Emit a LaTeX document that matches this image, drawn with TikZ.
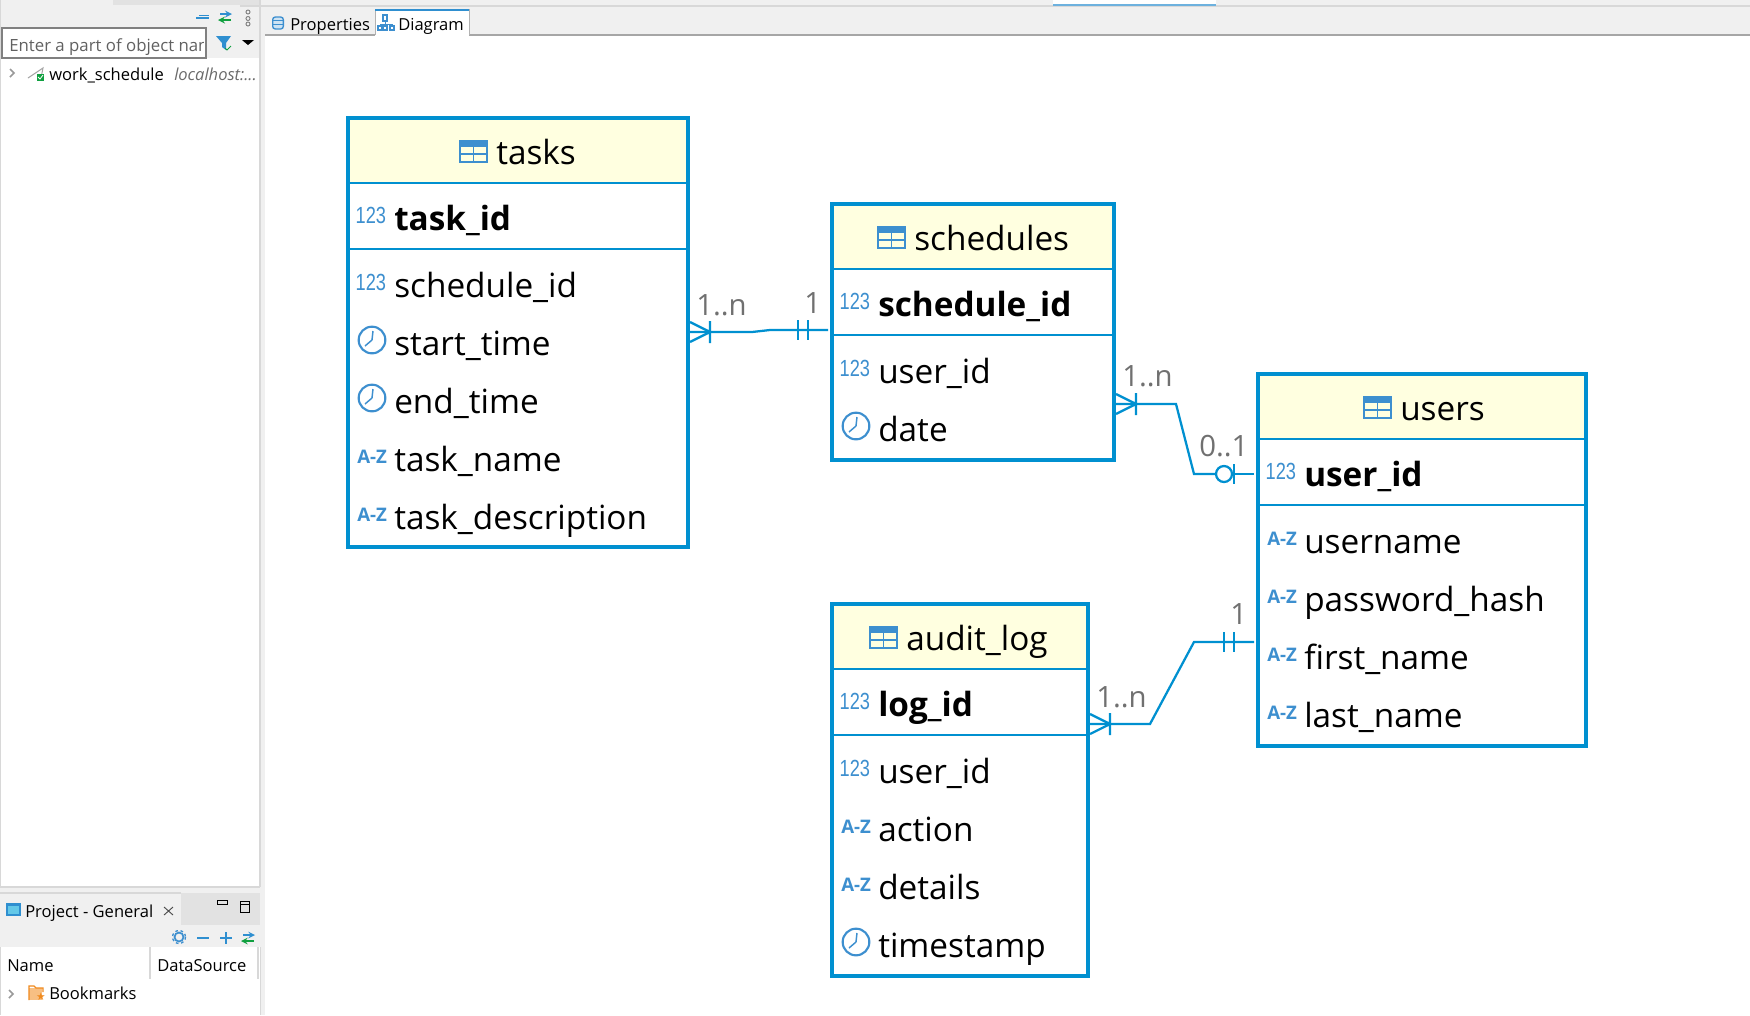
\documentclass[tikz,border=0pt]{standalone}
\usepackage{fontspec}
\setmainfont{Open Sans}
\newfontfamily\numfont{Liberation Sans}
\definecolor{erblue}{HTML}{0090D0}
\definecolor{icblue}{HTML}{3D8FCF}
\definecolor{hdryellow}{HTML}{FFFFE0}
\definecolor{lblgrey}{HTML}{707070}
\definecolor{panelgrey}{HTML}{F0F0F0}
\definecolor{tabgrey}{HTML}{E2E2E2}
\definecolor{edgegrey}{HTML}{D8D8D8}
\definecolor{toolblue}{HTML}{2F8FD0}
\definecolor{toolgreen}{HTML}{10A040}
\definecolor{folderorange}{HTML}{F08A1E}
\tikzset{
  tablebox/.style={draw=erblue,line width=3pt,inner sep=0pt},
  colname/.style={anchor=base west,inner sep=0pt,font=\fontsize{25}{30}\selectfont,text=black},
  pkname/.style={colname,font=\fontsize{25}{30}\selectfont\bfseries},
  titletext/.style={colname,font=\fontsize{25}{30}\selectfont},
  sepline/.style={draw=erblue,line width=1.6pt},
  erline/.style={draw=erblue,line width=1.7pt},
  cardlabel/.style={anchor=base west,inner sep=0pt,font=\fontsize{22}{26}\selectfont,text=lblgrey},
  uitext/.style={anchor=base west,inner sep=0pt,font=\fontsize{12.4}{15}\selectfont,text=black},
  numicon/.style={anchor=base west,inner sep=0pt,text=icblue,xscale=.78,transform shape,font=\fontsize{17.5}{20}\numfont},
  azicon/.style={anchor=base west,inner sep=0pt,text=icblue,font=\fontsize{14}{16}\selectfont\bfseries},
  clockring/.style={circle,draw=icblue,line width=1.6pt,minimum size=20pt,inner sep=0pt},
  toolline/.style={line width=1.4pt,draw=toolblue},
  chev/.style={draw=gray!80,line width=1.2pt},
}
\newcommand{\tablebody}[7]{% name,left,top,right,bottom,title,iconx
  \fill[hdryellow] (#2,#3) rectangle (#4,#3+65);
  \pgfmathsetlengthmacro{\boxw}{(#4-#2)*0.75pt}
  \pgfmathsetlengthmacro{\boxh}{(#5-#3)*0.75pt}
  \pgfmathsetmacro{\boxcx}{(#2+#4)/2}
  \pgfmathsetmacro{\boxcy}{(#3+#5)/2}
  \node[tablebox,minimum width=\boxw,minimum height=\boxh] (#1) at (\boxcx,\boxcy) {};
  \draw[sepline] (#2,#3+65) -- (#4,#3+65);
  \draw[sepline] (#2,#3+131) -- (#4,#3+131);
  \draw[icblue,line width=1.3pt] (#7,#3+23) rectangle (#7+27,#3+44);
  \fill[icblue] (#7,#3+23) rectangle (#7+27,#3+29);
  \draw[icblue,line width=1pt] (#7,#3+36) -- (#7+27,#3+36) (#7+13.5,#3+29) -- (#7+13.5,#3+44);
}
\newcommand{\numrow}[5]{% name,left,baseline,text,style
  \node[numicon] (#1i) at (#2+7.5,#3-7) {123};
  \node[#5] (#1) at (#2+46,#3) {#4};
}
\newcommand{\azrow}[4]{%
  \node[azicon] (#1i) at (#2+9,#3-8) {A-Z};
  \node[colname] (#1) at (#2+46,#3) {#4};
}
\newcommand{\clockrow}[4]{%
  \node[clockring] (#1i) at (#2+24,#3-15) {};
  \draw[icblue,line width=1.1pt] (#1i.center) -- ++(1,-9) (#1i.center) -- ++(-7,6);
  \node[colname] (#1) at (#2+46,#3) {#4};
}
\newcommand{\crow}[3]{% tip side x, apex x, y
  \draw[erline] (#1,#3-10) -- (#2,#3) -- (#1,#3+10) (#2,#3-11) -- (#2,#3+11);
}
\begin{document}
\begin{tikzpicture}[x=0.75pt,y=-0.75pt]
\useasboundingbox (0,0) rectangle (1750,1015);
\fill[white] (0,0) rectangle (1750,1015);

% ---- workbench chrome
\fill[panelgrey] (0,0) rectangle (1750,35);
\fill[panelgrey] (0,0) rectangle (265,58);
\fill[tabgrey] (113,0) rectangle (260,5);
\fill[panelgrey] (260,0) rectangle (265,1015);
\draw[edgegrey,line width=1pt] (260,0) -- (260,1015) (0,0) -- (0,1015);
\draw[edgegrey,line width=1pt] (240,6) -- (1750,6);
\fill[white] (1053,0) rectangle (1216,6);
\fill[toolblue!70!white] (1053,4) rectangle (1216,6);
\draw[gray!70,line width=.8pt] (265,35) -- (375,35) (469,35) -- (1750,35);
\fill[white] (375,9) rectangle (469,35);
\draw[gray!60,line width=.6pt] (375,35) -- (375,9) (469,9) -- (469,35);
\fill[toolblue] (375,9) rectangle (469,11);
% Properties tab
\node[draw=icblue,fill=icblue!25,line width=1pt,inner sep=0pt,minimum width=8pt,minimum height=9pt,rounded corners=2pt] (propicon) at (278,23) {};
\draw[icblue,line width=.7pt] (272,20) -- (284,20) (272,24) -- (284,24);
\node[uitext] (proptab) at (290,30) {Properties};
% Diagram tab
\draw[icblue,line width=1pt] (383,15) rectangle (387,21) (378,26) rectangle (382,30) (383,26) rectangle (387,30) (390,26) rectangle (394,30);
\draw[icblue,line width=.7pt] (385,21) -- (385,26) (380,26) -- (380,24) -- (392,24) -- (392,26);
\node[uitext] (diagtab) at (398,30) {Diagram};
% navigator toolbar
\draw[toolline] (196,18) -- (209,18);
\draw[toolblue,line width=.9pt] (199,15.5) -- (209,15.5);
\draw[-stealth,toolblue,line width=1.3pt] (220,14) -- (232,14);
\draw[-stealth,toolgreen,line width=1.3pt] (231,20) -- (218,20);
\foreach \yy in {12,18.5,24}{\draw[gray,line width=.7pt] (248,\yy) circle (2);}
% search box
\node[draw=gray,line width=.8pt,fill=white,minimum width=153pt,minimum height=22.5pt,inner sep=0pt] (searchbox) at (104,43) {};
\begin{scope}
\clip (3,30) rectangle (203,57);
\node[uitext,text=black!62,font=\fontsize{12.6}{15}\selectfont] (searchtext) at (9,51) {Enter a part of object name};
\end{scope}
\fill[toolblue] (216,36) -- (231,36) -- (226,43) -- (226,50) -- (222,47) -- (222,43) -- cycle;
\draw[toolgreen,line width=.6pt] (225,48) -- (227,50) -- (231,46);
\fill[black] (242,40) -- (254,40) -- (248,45) -- cycle;
% tree row
\draw[chev] (10,69) -- (14,73) -- (10,77);
\draw[gray!70,line width=.8pt] (28,78) -- (43,68) -- (41,78);
\fill[toolgreen] (37,74) rectangle (44,81);
\draw[white,line width=.6pt] (38,77) -- (40,79) -- (43,75);
\node[uitext] (wsname) at (49,80) {work\_schedule};
\node[uitext,text=black!58,font=\fontsize{12.4}{15}\selectfont\itshape] (wshost) at (174,80) {localhost:...};

% project panel
\fill[panelgrey] (0,887) rectangle (265,947);
\draw[edgegrey,line width=1pt] (0,887) -- (260,887);
\fill[tabgrey] (181,893) rectangle (260,925);
\fill[white] (1,947) rectangle (260,1015);
\draw[edgegrey,line width=1pt] (0,893) -- (181,893);
\fill[toolblue!70!cyan!70!white] (7,904) rectangle (20,915);
\draw[toolblue,line width=.8pt] (7,904) rectangle (20,915);
\fill[toolblue] (7,904) rectangle (20,906);
\node[uitext] (projtab) at (25,917) {Project - General};
\draw[black!70,line width=.7pt] (164,907) -- (173,915) (173,907) -- (164,915);
\draw[black,line width=.7pt] (217,900) rectangle (227,904);
\draw[black,line width=.7pt] (240,901) rectangle (249,912) (240,904) -- (249,904);
\draw[icblue,line width=1.3pt] (179,937) circle (4.5);
\draw[icblue,line width=1pt,dash pattern=on 2pt off 2pt] (179,937) circle (6.5);
\draw[toolline] (197,938) -- (209,938);
\draw[toolline] (220,938) -- (232,938) (226,932) -- (226,944);
\draw[-stealth,toolblue,line width=1.2pt] (243,935) -- (255,935);
\draw[-stealth,toolgreen,line width=1.2pt] (254,941) -- (241,941);
\node[uitext] (namehdr) at (7,971) {Name};
\draw[edgegrey,line width=.8pt] (150,947) -- (150,979) (258,947) -- (258,979);
\node[uitext] (dshdr) at (157,971) {DataSource};
\draw[chev] (9,990) -- (13,994) -- (9,998);
\fill[folderorange!55!white] (29,988) rectangle (42,1000);
\draw[folderorange,line width=1pt] (29,1000) -- (29,986) -- (34,986) -- (36,988) -- (43,988) -- (43,992);
\node[text=folderorange,inner sep=0pt,font=\fontsize{8}{8}\selectfont] (bookstar) at (41,997) {\fontspec{DejaVu Sans}★};
\node[uitext] (bookmarks) at (49,999) {Bookmarks};

% ---- tasks
\tablebody{tasks}{348}{118}{688}{547}{tasks}{460}
\node[titletext] (taskstitle) at (496,164) {tasks};
\numrow{taskid}{348}{230}{task\_id}{pkname}
\numrow{tschedid}{348}{297}{schedule\_id}{colname}
\clockrow{tstart}{348}{355}{start\_time}
\clockrow{tend}{348}{413}{end\_time}
\azrow{tname}{348}{471}{task\_name}
\azrow{tdesc}{348}{529}{task\_description}

% ---- schedules
\tablebody{schedules}{832}{204}{1114}{460}{schedules}{878}
\node[titletext] (schedtitle) at (914,250) {schedules};
\numrow{schedid}{832}{316}{schedule\_id}{pkname}
\numrow{suser}{832}{383}{user\_id}{colname}
\clockrow{sdate}{832}{441}{date}

% ---- users
\tablebody{users}{1258}{374}{1586}{746}{users}{1364}
\node[titletext] (userstitle) at (1400,420) {users};
\numrow{uid}{1258}{486}{user\_id}{pkname}
\azrow{uname}{1258}{553}{username}
\azrow{upass}{1258}{611}{password\_hash}
\azrow{ufirst}{1258}{669}{first\_name}
\azrow{ulast}{1258}{727}{last\_name}

% ---- audit_log
\tablebody{auditlog}{832}{604}{1088}{976}{audit\_log}{870}
\node[titletext] (audittitle) at (906,650) {audit\_log};
\numrow{logid}{832}{716}{log\_id}{pkname}
\numrow{auser}{832}{783}{user\_id}{colname}
\azrow{aaction}{832}{841}{action}
\azrow{adetails}{832}{899}{details}
\clockrow{atime}{832}{957}{timestamp}

% ---- connectors
\coordinate (c1a) at (690,332);
\coordinate (c1b) at (752,332);
\coordinate (c1c) at (770,330);
\coordinate (c1d) at (828,330);
\draw[erline] (c1a) -- (c1b) -- (c1c) -- (c1d);
\crow{690}{710}{332}
\draw[erline] (798,320) -- (798,340) (808,320) -- (808,340);
\node[cardlabel] (c1from) at (696,315) {1..n};
\node[cardlabel] (c1to) at (804,313) {1};

\coordinate (c2a) at (1116,404);
\coordinate (c2b) at (1176,404);
\coordinate (c2c) at (1194,474);
\coordinate (c2d) at (1216,474);
\coordinate (c2e) at (1233,474);
\coordinate (c2f) at (1254,474);
\draw[erline] (c2a) -- (c2b) -- (c2c) -- (c2d);
\draw[erline] (c2e) -- (c2f);
\node[draw=erblue,line width=1.7pt,circle,minimum size=12pt,inner sep=0pt] (c2ring) at (1224,474) {};
\draw[erline] (1234,464) -- (1234,484);
\crow{1116}{1136}{404}
\node[cardlabel] (c2from) at (1122,386) {1..n};
\node[cardlabel] (c2to) at (1199,456) {0..1};

\coordinate (c3a) at (1090,724);
\coordinate (c3b) at (1150,724);
\coordinate (c3c) at (1194,642);
\coordinate (c3d) at (1254,642);
\draw[erline] (c3a) -- (c3b) -- (c3c) -- (c3d);
\crow{1090}{1110}{724}
\draw[erline] (1224,632) -- (1224,652) (1234,632) -- (1234,652);
\node[cardlabel] (c3from) at (1096,707) {1..n};
\node[cardlabel] (c3to) at (1230,624) {1};
\end{tikzpicture}
\end{document}
